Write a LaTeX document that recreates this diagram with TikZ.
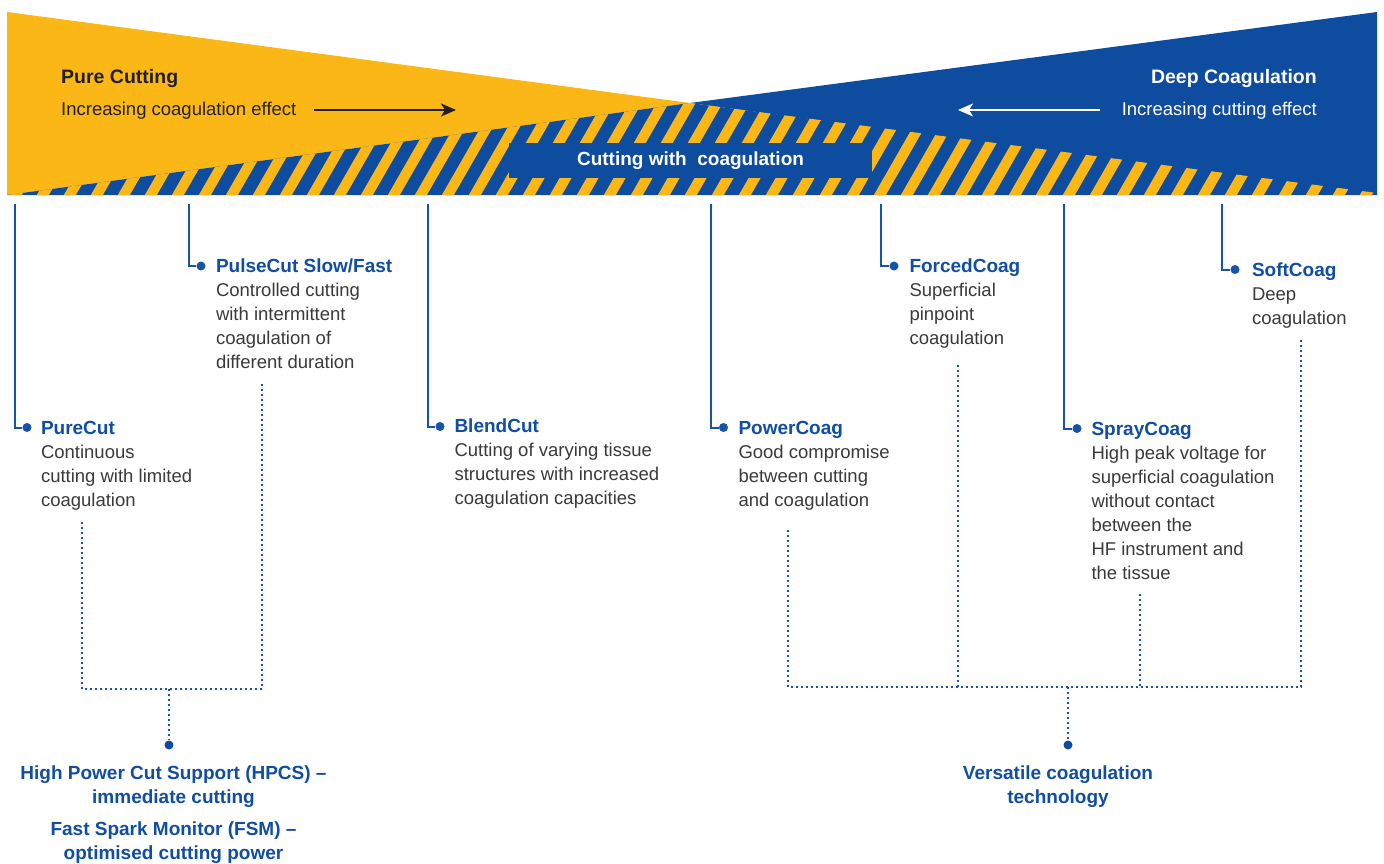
\documentclass[tikz,border=0pt]{standalone}
\usepackage{fontspec}
\setmainfont{Liberation Sans}
\usetikzlibrary{arrows.meta}
\definecolor{ylw}{RGB}{251,183,21}
\definecolor{blu}{RGB}{14,76,160}
\definecolor{lnblue}{RGB}{22,84,170}
\definecolor{ttlblue}{RGB}{16,78,164}
\definecolor{txtgray}{RGB}{58,58,58}
\definecolor{darktxt}{RGB}{35,31,32}
\newcommand{\descfont}{\fontsize{18.5}{24}\selectfont}
\newcommand{\ttlfont}{\fontsize{19}{24}\selectfont\bfseries}
\newcommand{\ttl}[1]{{\ttlfont\color{ttlblue}#1}}
\begin{document}
\begin{tikzpicture}[x=1pt,y=-1pt,
  item/.style={anchor=north west, inner sep=0pt, outer sep=0pt, align=left, font=\descfont, text=txtgray},
  lbl/.style={anchor=north, inner sep=0pt, align=center, font=\ttlfont, text=ttlblue},
  dotnode/.style={circle, fill=lnblue, inner sep=0pt, minimum size=9pt},
  bigdot/.style={circle, fill=blu, inner sep=0pt, minimum size=9pt},
  solidln/.style={draw=lnblue, line width=2pt},
  dotln/.style={draw=lnblue, line width=1.7pt, dash pattern=on 1.7pt off 3.3pt},
  darkarrow/.style={draw=darktxt, line width=2.2pt, -{Stealth[length=15pt,width=13pt,inset=4pt]}},
  whitearrow/.style={draw=white, line width=2.2pt, -{Stealth[length=15pt,width=13pt,inset=4pt]}},
  headfont/.style={font=\fontsize{19.5}{24}\selectfont\bfseries, inner sep=0pt},
  subfont/.style={font=\fontsize{18.5}{24}\selectfont, inner sep=0pt}
]
\useasboundingbox (0,0) rectangle (1384,864);
\fill[white] (0,0) rectangle (1384,864);

% --- band ---
\fill[ylw] (7,12) -- (690,103) -- (7,195) -- cycle;
\fill[blu] (690,103) -- (1377,12) -- (1377,195) -- cycle;
\begin{scope}
  \clip (7,195) -- (690,103) -- (1377,193) -- (1377,195) -- cycle;
  \fill[blu] (0,90) rectangle (1384,200);
  \foreach \i in {-4,...,52}
    \fill[ylw] ({7+\i*27},200) -- ++(12,0) -- ++(62,-108) -- ++(-12,0) -- cycle;
\end{scope}
\node[fill=blu, minimum width=363pt, minimum height=35pt, inner sep=0pt,
      text=white, font=\fontsize{19}{24}\selectfont\bfseries, text height=14pt, text depth=4pt]
      (cbox) at (690.5,160.5) {Cutting with\ \ coagulation};

% --- header texts ---
\node[headfont, text=darktxt, anchor=base west] (pure) at (61,83.5) {Pure Cutting};
\node[subfont, text=darktxt, anchor=base west] (incc) at (61,115.5) {Increasing coagulation effect};
\node[headfont, text=white, anchor=base east] (deep) at (1317,83.5) {Deep Coagulation};
\node[subfont, text=white, anchor=base east] (incu) at (1317,115.5) {Increasing cutting effect};
\coordinate (a1s) at (314,110);
\coordinate (a1e) at (456,110);
\draw[darkarrow] (a1s) -- (a1e);
\coordinate (a2s) at (1100,110);
\coordinate (a2e) at (958,110);
\draw[whitearrow] (a2s) -- (a2e);

% --- items ---
% PureCut
\coordinate (t1) at (15,204);
\node[dotnode] (d1) at (27,427.5) {};
\node[item] (n1) at (41,417.2) {\strut\ttl{PureCut}\\Continuous\\cutting with limited\\coagulation};
\draw[solidln] (t1) |- (d1);
% PulseCut
\coordinate (t2) at (189,204);
\node[dotnode] (d2) at (201,266) {};
\node[item] (n2) at (216,255.7) {\strut\ttl{PulseCut Slow/Fast}\\Controlled cutting\\with intermittent\\coagulation of\\different duration};
\draw[solidln] (t2) |- (d2);
% BlendCut
\coordinate (t3) at (428,204);
\node[dotnode] (d3) at (440,426.5) {};
\node[item] (n3) at (454.5,415.7) {\strut\ttl{BlendCut}\\Cutting of varying tissue\\structures with increased\\coagulation capacities};
\draw[solidln] (t3) |- (d3);
% PowerCoag
\coordinate (t4) at (711,204);
\node[dotnode] (d4) at (723.5,427.5) {};
\node[item] (n4) at (738.5,417.2) {\strut\ttl{PowerCoag}\\Good compromise\\between cutting\\and coagulation};
\draw[solidln] (t4) |- (d4);
% ForcedCoag
\coordinate (t5) at (881,204);
\node[dotnode] (d5) at (894,266) {};
\node[item] (n5) at (909.5,255.7) {\strut\ttl{ForcedCoag}\\Superficial\\pinpoint\\coagulation};
\draw[solidln] (t5) |- (d5);
% SprayCoag
\coordinate (t6) at (1064,204);
\node[dotnode] (d6) at (1077,428.5) {};
\node[item] (n6) at (1091.5,418.2) {\strut\ttl{SprayCoag}\\High peak voltage for\\superficial coagulation\\without contact\\between the\\HF instrument and\\the tissue};
\draw[solidln] (t6) |- (d6);
% SoftCoag
\coordinate (t7) at (1222,204);
\node[dotnode] (d7) at (1235,269.5) {};
\node[item] (n7) at (1252,259.7) {\strut\ttl{SoftCoag}\\Deep\\coagulation};
\draw[solidln] (t7) |- (d7);

% --- left group (dotted) ---
\coordinate (L1) at (82,522);
\coordinate (L2) at (262,384);
\coordinate (Lm) at (169,689);
\node[bigdot] (hd) at (169,745) {};
\draw[dotln] (L1) |- (Lm) -| (L2);
\draw[dotln] (Lm) -- (hd);
\node[lbl] (hpcs) at (173.5,762.5) {\strut High Power Cut Support (HPCS) –\\immediate cutting\\[8pt]Fast Spark Monitor (FSM) –\\optimised cutting power};

% --- right group (dotted) ---
\coordinate (R1) at (788,530);
\coordinate (R2) at (958,365);
\coordinate (R3) at (1140,594);
\coordinate (R4) at (1301,340);
\coordinate (Rm) at (1068,687);
\node[bigdot] (vd) at (1068,745) {};
\draw[dotln] (R1) |- (Rm) -| (R4);
\draw[dotln] (R2) -- (R2 |- Rm);
\draw[dotln] (R3) -- (R3 |- Rm);
\draw[dotln] (Rm) -- (vd);
\node[lbl] (vct) at (1058,762.5) {\strut Versatile coagulation\\technology};
\end{tikzpicture}
\end{document}
